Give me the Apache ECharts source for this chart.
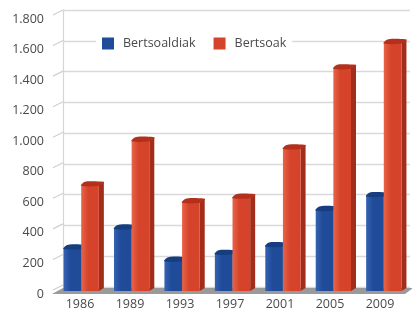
<!DOCTYPE html>
<html>
<head>
<meta charset="utf-8">
<script src="https://cdn.jsdelivr.net/npm/echarts@6/dist/echarts.min.js"></script>
<style>
  html, body { margin: 0; padding: 0; background: #fff; }
  #chart { width: 412px; height: 311px; }
</style>
</head>
<body>
<div id="chart"></div>
<script>
const years = ['1986', '1989', '1993', '1997', '2001', '2005', '2009'];
const bertsoaldiak = [280, 410, 200, 245, 295, 530, 620];
const bertsoak = [690, 980, 580, 610, 930, 1450, 1615];
const yTicks = [0, 200, 400, 600, 800, 1000, 1200, 1400, 1600, 1800];
const yTickLabels = ['0', '200', '400', '600', '800', '1.000', '1.200', '1.400', '1.600', '1.800'];

const FONT = 'Open Sans';

// 3D looking bar: front face, side face and top
function bar3d(shift, front, light, side, top) {
  return function (params, api) {
    const cat = api.value(0);
    const v = api.value(1);
    const base = api.coord([cat, 0]);
    const tp = api.coord([cat, v]);
    const w = api.size([1, 0])[0] * 0.35;
    const d = 5, h = 3;
    const x0 = base[0] + shift * w;
    const x1 = x0 + w;
    return {
      type: 'group',
      children: [
        {
          type: 'polygon',
          shape: { points: [[x1, tp[1]], [x1 + d, tp[1] - h], [x1 + d, base[1] - h], [x1, base[1]]] },
          style: { fill: side }
        },
        {
          type: 'rect',
          shape: { x: x0, y: tp[1], width: w, height: base[1] - tp[1] },
          style: {
            fill: new echarts.graphic.LinearGradient(0, 0, 1, 0, [
              { offset: 0, color: light },
              { offset: 0.4, color: front },
              { offset: 1, color: front }
            ])
          }
        },
        {
          type: 'polygon',
          shape: { points: [[x0, tp[1] + 1], [x0 + 2, tp[1] - 2], [x0 + d + 1, tp[1] - h - 0.5], [x1 + d, tp[1] - h], [x1 + d, tp[1] - h + 1], [x1, tp[1] + 1]], smooth: 0.4 },
          style: { fill: top }
        }
      ]
    };
  };
}

// left wall ticks and floor
function frame(params, api) {
  const cs = params.coordSys;
  const p = api.coord([0, api.value(0)]);
  const y = p[1];
  const children = [{
    type: 'line',
    shape: { x1: cs.x - 2, y1: y - 4, x2: cs.x + 8, y2: y - 9 },
    style: { stroke: '#cfcfcf', lineWidth: 1.2 }
  }];
  if (api.value(0) === 0) {
    children.push({
      type: 'polygon',
      shape: { points: [[cs.x - 3, y], [cs.x + cs.width, y], [cs.x + cs.width + 8, y - 6], [cs.x + 8, y - 6]] },
      style: { fill: '#9a9a9a' }
    });
  }
  return { type: 'group', children: children };
}

const chart = echarts.init(document.getElementById('chart'));
chart.setOption({
  animation: false,
  backgroundColor: '#fff',
  legend: {
    data: ['Bertsoaldiak', 'Bertsoak'],
    left: 96,
    top: 35,
    icon: 'rect',
    itemWidth: 12,
    itemHeight: 12,
    itemGap: 18,
    padding: [2, 6],
    backgroundColor: '#fff',
    textStyle: { fontFamily: FONT, fontSize: 12.5, color: '#4a4a4a', padding: [0, 0, 0, 4] }
  },
  grid: [
    { left: 55, right: 7, top: 19, bottom: 15 },
    { left: 56, right: 3, top: 14, bottom: 20 },
    { left: 63, right: 2, top: 10, bottom: 24 }
  ],
  xAxis: [
    {
      gridIndex: 0, type: 'category', data: years,
      axisLine: { show: false }, axisTick: { show: false },
      axisLabel: { margin: 4, fontFamily: FONT, fontSize: 12.5, color: '#4a4a4a' }
    },
    { gridIndex: 1, type: 'category', data: years, show: false },
    { gridIndex: 2, type: 'category', data: years, show: false }
  ],
  yAxis: [
    {
      gridIndex: 0, type: 'value', min: 0, max: 1800, interval: 200,
      axisLine: { show: false }, axisTick: { show: false }, splitLine: { show: false },
      axisLabel: {
        margin: 11, fontFamily: FONT, fontSize: 12.5, color: '#4a4a4a',
        formatter: function (v) { return yTickLabels[yTicks.indexOf(v)]; }
      }
    },
    { gridIndex: 1, type: 'value', min: 0, max: 1800, interval: 200, show: false },
    {
      gridIndex: 2, type: 'value', min: 0, max: 1800, interval: 200,
      axisLabel: { show: false }, axisTick: { show: false },
      axisLine: { show: true, lineStyle: { color: '#d6d6d6', width: 1.2 } },
      splitLine: { lineStyle: { color: '#d9d9d9', width: 1.4 } }
    }
  ],
  series: [
    {
      type: 'custom', name: 'frame', xAxisIndex: 0, yAxisIndex: 0,
      data: yTicks.map(function (v) { return [v]; }),
      renderItem: frame, silent: true, z: 1
    },
    {
      type: 'custom', name: 'Bertsoaldiak', xAxisIndex: 1, yAxisIndex: 1,
      itemStyle: { color: '#1f4b98' },
      data: bertsoaldiak.map(function (v, i) { return [i, v]; }),
      renderItem: bar3d(-1, '#1f4b98', '#3563b3', '#143672', '#163d80'), z: 3
    },
    {
      type: 'custom', name: 'Bertsoak', xAxisIndex: 1, yAxisIndex: 1,
      itemStyle: { color: '#d5432a' },
      data: bertsoak.map(function (v, i) { return [i, v]; }),
      renderItem: bar3d(0, '#d5432a', '#e86448', '#a32d1b', '#b3301c'), z: 3
    }
  ]
});
</script>
</body>
</html>
